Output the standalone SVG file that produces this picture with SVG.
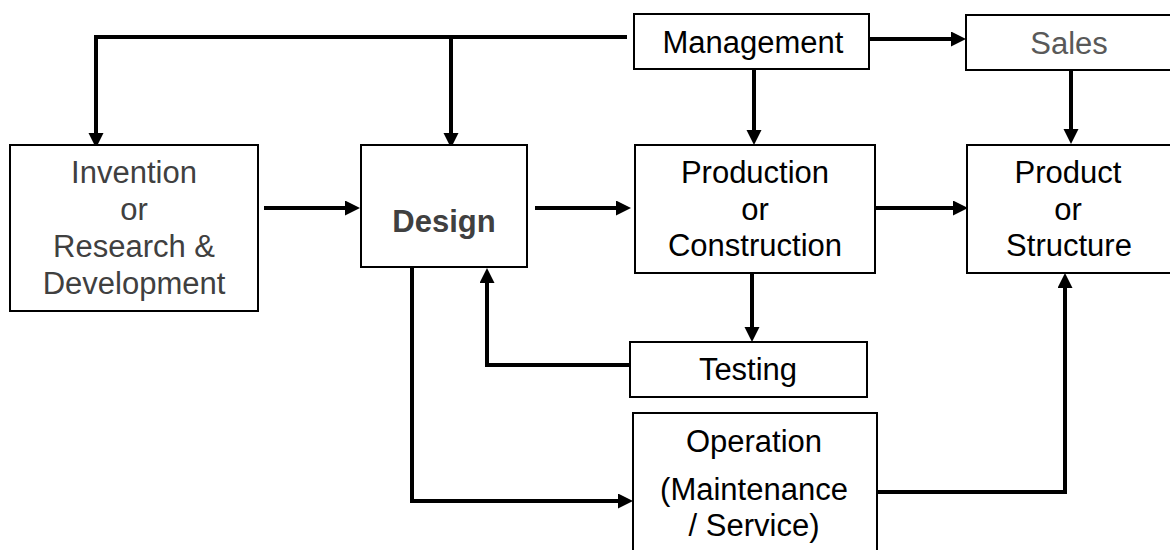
<svg xmlns="http://www.w3.org/2000/svg" width="1170" height="550" viewBox="0 0 1170 550">
<defs>
<style>
.box{fill:#fff;stroke:#000;stroke-width:2}
.t{font-family:"Liberation Sans",Arial,sans-serif;font-size:31px;fill:#000;text-anchor:middle}
.g{fill:#404040}
.s{fill:#595959}
.b{font-weight:bold}
.c{fill:none;stroke:#000;stroke-width:4;marker-end:url(#ah)}
</style>
<marker id="ah" markerUnits="userSpaceOnUse" markerWidth="16" markerHeight="16" refX="11" refY="7.5" orient="auto">
<path d="M0,0 L15,7.5 L0,15 z" fill="#000"/>
</marker>
</defs>
<rect width="1170" height="550" fill="#fff"/>
<g id="connectors">
<path class="c" d="M627,37 H96 V144"/>
<path class="c" d="M451,37 V144"/>
<path class="c" d="M870,39 H962"/>
<path class="c" d="M754,69 V141"/>
<path class="c" d="M1071,70 V140"/>
<path class="c" d="M264,208 H356"/>
<path class="c" d="M535,208 H627"/>
<path class="c" d="M875,208 H964"/>
<path class="c" d="M752,266 V338"/>
<path class="c" d="M630,365 H487 V272"/>
<path class="c" d="M412,267 V501 H629"/>
<path class="c" d="M877,492 H1065 V277"/>
</g>
<g id="management"><rect class="box" x="634" y="14" width="235" height="55"/><text class="t" x="753" y="53">Management</text></g>
<g id="sales"><rect class="box" x="966" y="15" width="215" height="55"/><text class="t s" x="1069" y="54">Sales</text></g>
<g id="invention"><rect class="box" x="10" y="145" width="248" height="166"/>
<text class="t g" x="134" y="183">Invention</text><text class="t g" x="134" y="220">or</text><text class="t g" x="134" y="257">Research &amp;</text><text class="t g" x="134" y="294">Development</text></g>
<g id="design"><rect class="box" x="361" y="145" width="166" height="122"/><text class="t g b" x="444" y="232">Design</text></g>
<g id="production"><rect class="box" x="635" y="145" width="240" height="128"/>
<text class="t" x="755" y="183">Production</text><text class="t" x="755" y="220">or</text><text class="t" x="755" y="256">Construction</text></g>
<g id="product"><rect class="box" x="967" y="145" width="215" height="128"/>
<text class="t" x="1068" y="183">Product</text><text class="t" x="1068" y="220">or</text><text class="t" x="1069" y="256">Structure</text></g>
<g id="testing"><rect class="box" x="630" y="342" width="237" height="55"/><text class="t" x="748" y="380">Testing</text></g>
<g id="operation"><rect class="box" x="633" y="413" width="244" height="150"/>
<text class="t" x="754" y="452">Operation</text><text class="t" x="754" y="500">(Maintenance</text><text class="t" x="754" y="536">/ Service)</text></g>
</svg>
